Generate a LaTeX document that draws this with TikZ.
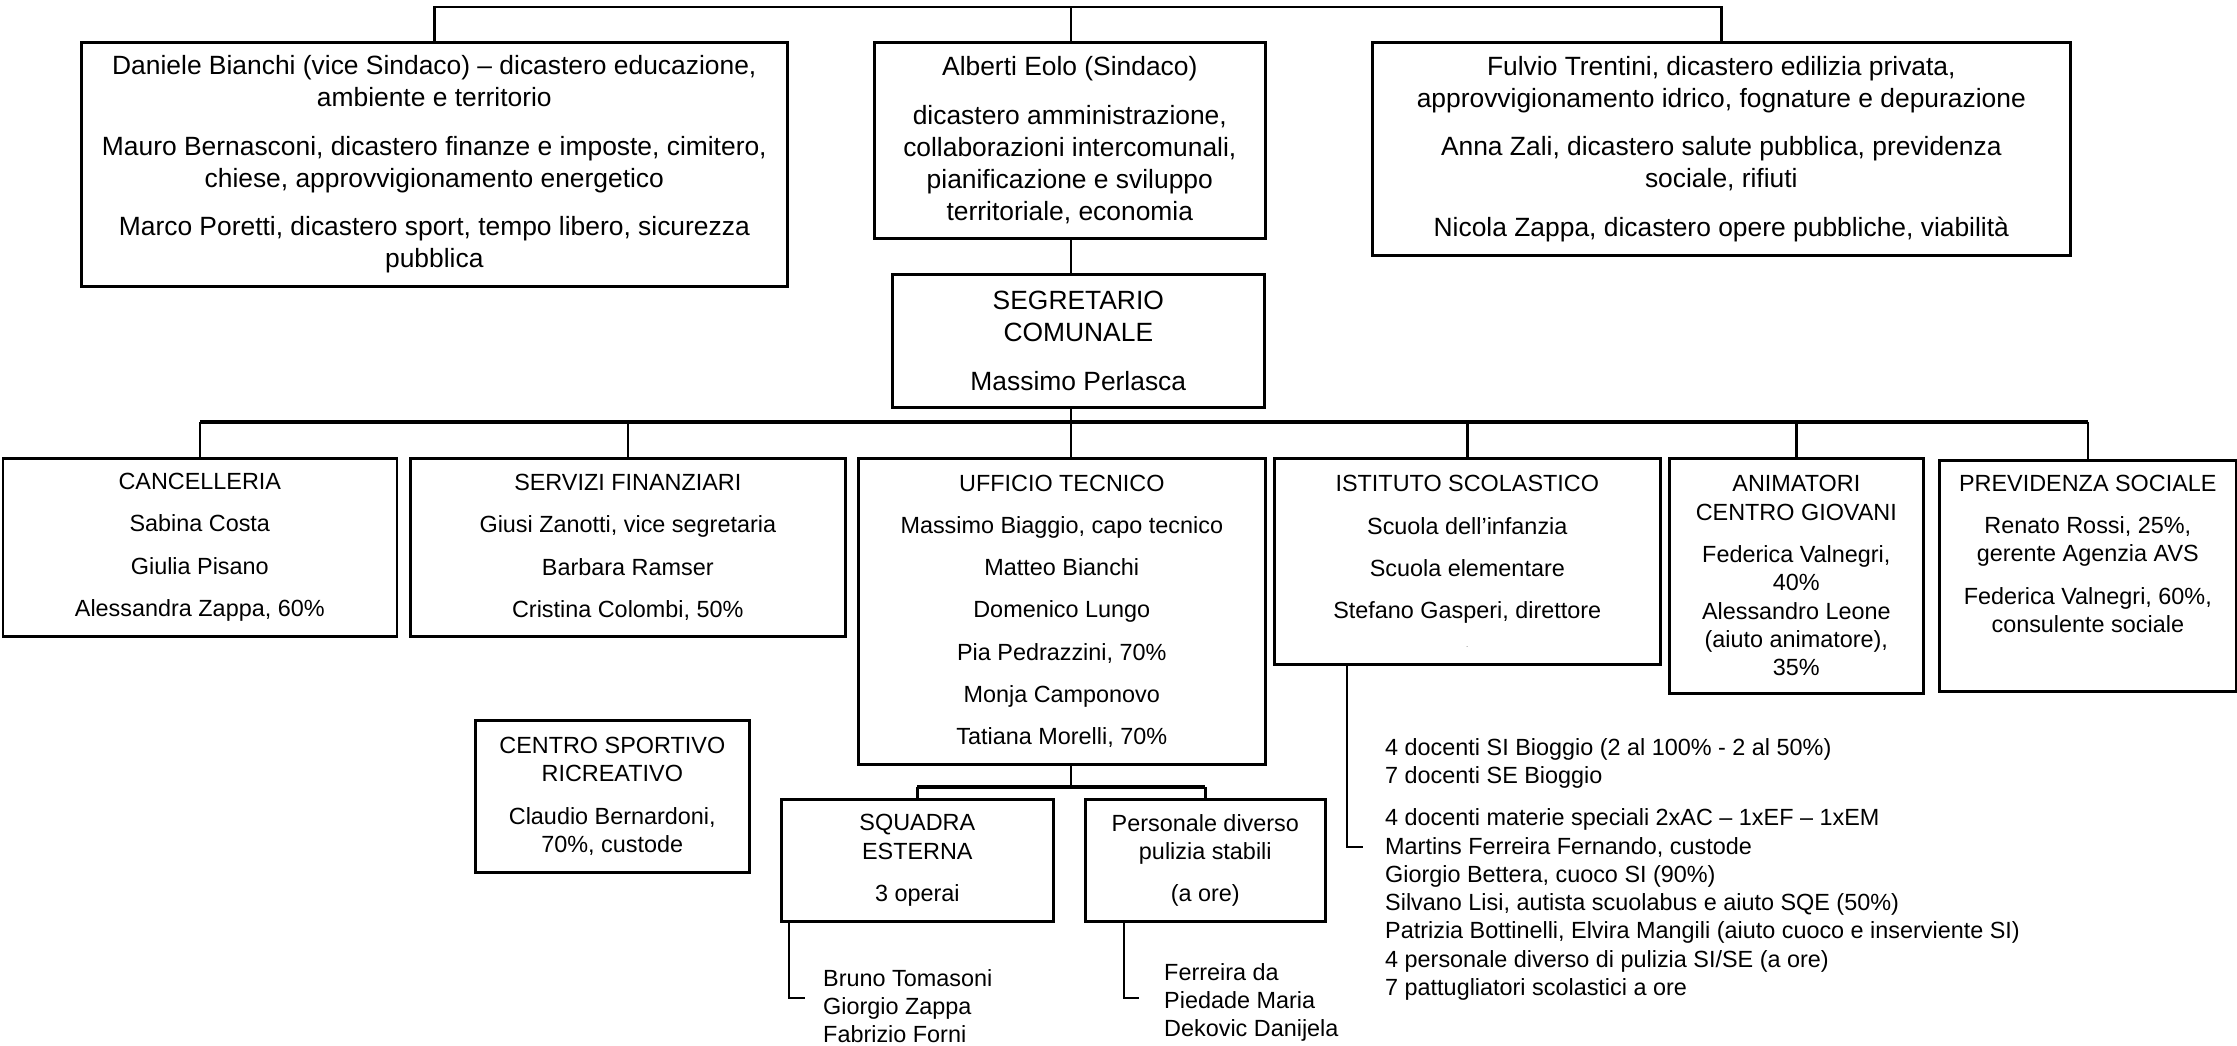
\documentclass[tikz,border=0pt]{standalone}
\usepackage{fontspec}
\setmainfont{Liberation Sans}

\tikzset{
  casella/.style={draw, line width=2.6pt, align=center, inner sep=0pt, anchor=north west},
  alto/.style={casella, font=\fontsize{26.4}{32}\selectfont},
  basso/.style={casella, font=\fontsize{23.4}{28.3}\selectfont},
  lista/.style={align=left, inner sep=0pt, anchor=north west, font=\fontsize{23.4}{28.3}\selectfont},
  link/.style={line width=2.4pt},
  bus/.style={line width=3.6pt}
}
\newcommand{\altosep}{\\[16.5pt]}
\newcommand{\bassosep}{\\[14pt]}

\begin{document}
\begin{tikzpicture}[x=1pt,y=-1pt]

\useasboundingbox (0,0) rectangle (2237,1045);

% municipio
\node[alto, minimum width=706pt, minimum height=244pt] (vice) at (80,41)
  {Daniele Bianchi (vice Sindaco) – dicastero educazione,\\ ambiente e territorio\altosep
   Mauro Bernasconi, dicastero finanze e imposte, cimitero,\\ chiese, approvvigionamento energetico\altosep
   Marco Poretti, dicastero sport, tempo libero, sicurezza\\ pubblica};
\node[alto, minimum width=391pt, minimum height=196pt] (sind) at (873,41)
  {Alberti Eolo (Sindaco)\altosep
   dicastero amministrazione,\\ collaborazioni intercomunali,\\ pianificazione e sviluppo\\ territoriale, economia};
\node[alto, minimum width=698pt, minimum height=213pt] (tren) at (1371,41)
  {Fulvio Trentini, dicastero edilizia privata,\\ approvvigionamento idrico, fognature e depurazione\altosep
   Anna Zali, dicastero salute pubblica, previdenza\\ sociale, rifiuti\altosep
   Nicola Zappa, dicastero opere pubbliche, viabilità};

\node[alto, minimum width=372pt, minimum height=133pt] (seg) at (891,273)
  {SEGRETARIO\\ COMUNALE\altosep Massimo Perlasca};

% servizi
\node[basso, minimum width=394pt, minimum height=178pt] (canc) at (1.5,457)
  {CANCELLERIA\bassosep Sabina Costa\bassosep Giulia Pisano\bassosep Alessandra Zappa, 60\%};
\node[basso, minimum width=435pt, minimum height=178pt] (serv) at (409,457)
  {SERVIZI FINANZIARI\bassosep Giusi Zanotti, vice segretaria\bassosep Barbara Ramser\bassosep Cristina Colombi, 50\%};
\node[basso, minimum width=407pt, minimum height=306pt] (uff) at (857,457)
  {UFFICIO TECNICO\bassosep Massimo Biaggio, capo tecnico\bassosep Matteo Bianchi\bassosep Domenico Lungo\bassosep
   Pia Pedrazzini, 70\%\bassosep Monja Camponovo\bassosep Tatiana Morelli, 70\%};
\node[basso, minimum width=386pt, minimum height=206pt] (ist) at (1273,457)
  {ISTITUTO SCOLASTICO\bassosep Scuola dell’infanzia\bassosep Scuola elementare\bassosep
   Stefano Gasperi, direttore\\[0pt] {\fontsize{6}{6}\selectfont .}};
\node[basso, minimum width=254pt, minimum height=235pt] (anim) at (1668,457)
  {ANIMATORI\\ CENTRO GIOVANI\bassosep Federica Valnegri,\\ 40\%\\ Alessandro Leone\\ (aiuto animatore),\\ 35\%};
\node[basso, minimum width=297pt, minimum height=231pt] (prev) at (1938,459)
  {PREVIDENZA SOCIALE\bassosep Renato Rossi, 25\%,\\ gerente Agenzia AVS\bassosep
   Federica Valnegri, 60\%,\\ consulente sociale\\[16pt]\mbox{}};

\node[basso, minimum width=274pt, minimum height=152pt] (centro) at (474,719)
  {CENTRO SPORTIVO\\ RICREATIVO\bassosep Claudio Bernardoni,\\ 70\%, custode};
\node[basso, minimum width=272pt, minimum height=122pt] (squadra) at (780,798)
  {SQUADRA\\ ESTERNA\bassosep 3 operai};
\node[basso, minimum width=240pt, minimum height=122pt] (pers) at (1084,798)
  {Personale diverso\\ pulizia stabili\bassosep (a ore)};

% elenchi
\node[lista] (istlista) at (1385,738)
  {4 docenti SI Bioggio (2 al 100\% - 2 al 50\%)\\ 7 docenti SE Bioggio\bassosep
   4 docenti materie speciali 2xAC – 1xEF – 1xEM\\ Martins Ferreira Fernando, custode\\
   Giorgio Bettera, cuoco SI (90\%)\\ Silvano Lisi, autista scuolabus e aiuto SQE (50\%)\\
   Patrizia Bottinelli, Elvira Mangili (aiuto cuoco e inserviente SI)\\
   4 personale diverso di pulizia SI/SE (a ore)\\ 7 pattugliatori scolastici a ore};
\node[lista] (sqlista) at (823,969)
  {Bruno Tomasoni\\ Giorgio Zappa\\ Fabrizio Forni};
\node[lista] (perslista) at (1164,963)
  {Ferreira da\\ Piedade Maria\\ Dekovic Danijela};

% collegamenti
\coordinate (capo) at (1071,7);
\coordinate (snodo) at (1071,422);
\coordinate (snodo2) at (1071,787);
\coordinate (istpunta) at (1363,847);
\coordinate (sqpunta) at (805,998);
\coordinate (perspunta) at (1139,998);

\draw[link] (vice.north) |- (capo) -| (tren.north);
\draw[link] (capo) -- (capo |- sind.north);
\draw[link] (capo |- sind.south) -- (capo |- seg.north);
\draw[link] (capo |- seg.south) -- (capo |- uff.north);

\draw[bus] (canc.north |- snodo) -- (prev.north |- snodo);
\foreach \n in {canc,serv,ist,anim,prev}
  \draw[link] (\n.north |- snodo) -- (\n.north);

\draw[link] (capo |- uff.south) -- (snodo2);
\draw[bus] (squadra.north |- snodo2) -- (pers.north |- snodo2);
\foreach \n in {squadra,pers}
  \draw[link] (\n.north |- snodo2) -- (\n.north);

\draw[link] ([xshift=74pt]ist.south west) |- (istpunta);
\draw[link] ([xshift=9pt]squadra.south west) |- (sqpunta);
\draw[link] ([xshift=40pt]pers.south west) |- (perspunta);

\end{tikzpicture}
\end{document}
